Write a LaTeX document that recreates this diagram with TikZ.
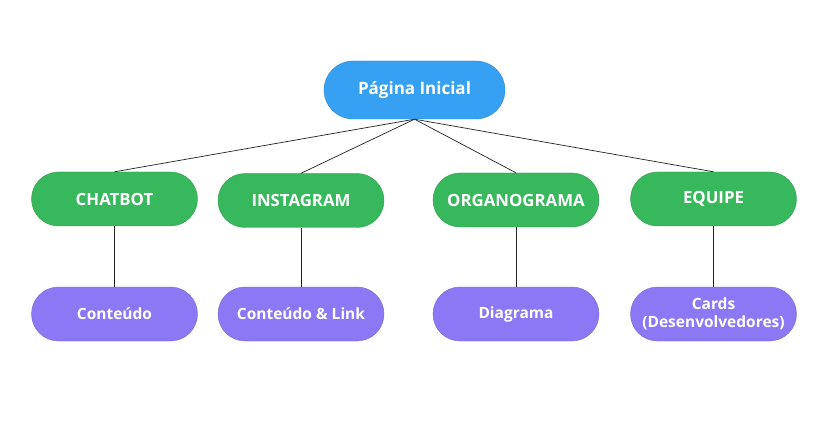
\documentclass[tikz,border=0pt]{standalone}
\usepackage{fontspec}
\setmainfont{Open Sans}
\definecolor{cblue}{HTML}{36A0F2}
\definecolor{cgreen}{HTML}{38B85C}
\definecolor{cpurple}{HTML}{8C78F5}
\definecolor{cline}{HTML}{222222}
\begin{document}
\begin{tikzpicture}[x=1pt,y=-1pt,
  pill/.style={rectangle, rounded corners=27pt, minimum width=166pt, minimum height=54pt,
    inner sep=0pt, text=white, font=\bfseries\fontsize{15.5}{18}\selectfont, align=center},
  topbox/.style={pill, fill=cblue, draw=cblue!85!black, line width=0.4pt, minimum width=181pt, minimum height=58pt, rounded corners=29pt, font=\bfseries\fontsize{17}{19}\selectfont},
  midbox/.style={pill, fill=cgreen, draw=cgreen!85!black, line width=0.4pt, font=\bfseries\fontsize{16.8}{19}\selectfont},
  leafbox/.style={pill, fill=cpurple, draw=cpurple!85!black, line width=0.4pt},
  conn/.style={draw=cline, line width=0.7pt}]
\useasboundingbox[fill=white] (0,0) rectangle (828,425);
\node[topbox] (root) at (414.5,90) {Página Inicial};
\node[midbox] (chat) at (114.5,199) {CHATBOT};
\node[midbox] (insta) at (301,200.5) {INSTAGRAM};
\node[midbox] (org) at (516,200) {ORGANOGRAMA};
\node[midbox] (eq) at (713.5,199) {EQUIPE};
\node[leafbox] (c1) at (114.5,314) {Conteúdo};
\node[leafbox] (c2) at (301,314) {Conteúdo \& Link};
\node[leafbox] (c3) at (516,314) {Diagrama};
\node[leafbox] (c4) at (713.5,314) {Cards\\(Desenvolvedores)};
\foreach \n in {chat,insta,org,eq}{\draw[conn] (root.south) -- (\n.north);}
\draw[conn] (chat.south) -- (c1.north);
\draw[conn] (insta.south) -- (c2.north);
\draw[conn] (org.south) -- (c3.north);
\draw[conn] (eq.south) -- (c4.north);
\end{tikzpicture}
\end{document}
